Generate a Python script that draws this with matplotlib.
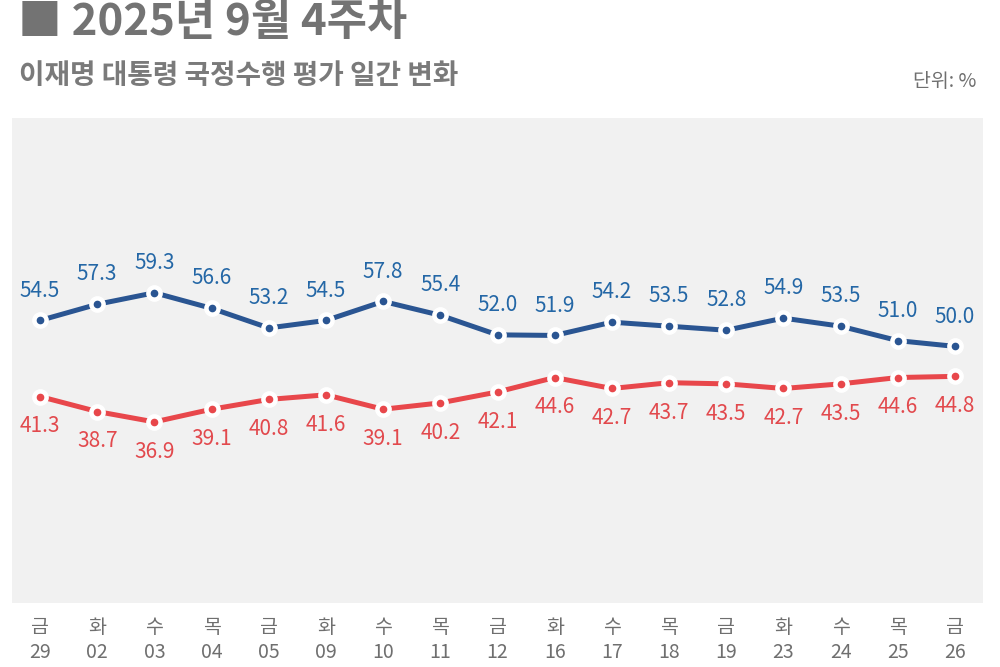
import matplotlib
matplotlib.use("Agg")
import matplotlib.pyplot as plt

plt.rcParams['font.family'] = ['Noto Sans CJK KR', 'DejaVu Sans']

days = ['금', '화', '수', '목', '금', '화', '수', '목', '금', '화', '수', '목', '금', '화', '수', '목', '금']
dates = ['29', '02', '03', '04', '05', '09', '10', '11', '12', '16', '17', '18', '19', '23', '24', '25', '26']
positive = [54.5, 57.3, 59.3, 56.6, 53.2, 54.5, 57.8, 55.4, 52.0, 51.9, 54.2, 53.5, 52.8, 54.9, 53.5, 51.0, 50.0]
negative = [41.3, 38.7, 36.9, 39.1, 40.8, 41.6, 39.1, 40.2, 42.1, 44.6, 42.7, 43.7, 43.5, 42.7, 43.5, 44.6, 44.8]

BLUE_LINE = '#2a5592'
BLUE_TXT = '#2467a6'
RED_LINE = '#e8474b'
RED_TXT = '#e2494d'
GRAY = '#6f6f6f'

fig = plt.figure(figsize=(10, 6.67), dpi=100)
ax = fig.add_axes([0.012, 0.096, 0.971, 0.727])
ax.set_facecolor('#f1f1f1')
for s in ax.spines.values():
    s.set_visible(False)

x = list(range(len(dates)))
for vals, lc, tc, off in [(positive, BLUE_LINE, BLUE_TXT, 21.5),
                          (negative, RED_LINE, RED_TXT, -21.5)]:
    ax.plot(x, vals, color=lc, lw=3.6, solid_capstyle='round', zorder=2)
    ax.plot(x, vals, 'o', ms=11, mfc='white', mec='white', zorder=3)
    ax.plot(x, vals, 'o', ms=4.5, mfc=lc, mec=lc, zorder=4)
    for xi, v in zip(x, vals):
        ax.annotate(f'{v:.1f}', (xi, v), xytext=(0, off), textcoords='offset points',
                    ha='center', va='center', fontsize=15, color=tc, zorder=5)

ax.set_xlim(-0.49, 16.49)
ax.set_ylim(5.5, 89.6)
ax.set_yticks([])
ax.set_xticks(x)
ax.set_xticklabels([f'{d}\n{n}' for d, n in zip(days, dates)], fontsize=14,
                   color=GRAY, linespacing=1.25)
ax.tick_params(axis='x', length=0, pad=10)

fig.text(0.018, 0.967, '■ 2025년 9월 4주차', fontsize=31.5, fontweight='heavy',
         color='#737373', ha='left', va='center')
fig.text(0.019, 0.886, '이재명 대통령 국정수행 평가 일간 변화', fontsize=20,
         fontweight='bold', color='#7a7a7a', ha='left', va='center')
fig.text(0.976, 0.878, '단위: %', fontsize=14, color=GRAY, ha='right', va='center')

fig.savefig('out.png', dpi=100, facecolor='white')
